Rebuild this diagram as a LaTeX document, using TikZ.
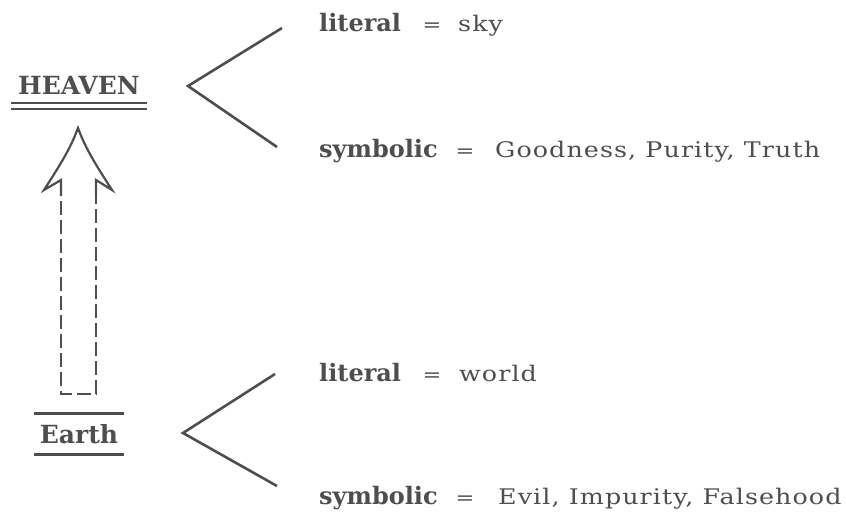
\documentclass[tikz,border=0pt]{standalone}
\usepackage{fontspec}
\setmainfont{DejaVu Serif}
\newfontfamily\twfont[FakeStretch=1.18,LetterSpace=5]{DejaVu Serif}
\definecolor{ink}{RGB}{78,78,78}
\begin{document}
\begin{tikzpicture}[x=1pt,y=-1pt,
  ink line/.style={draw=ink,line width=2.6pt,line cap=butt,line join=miter},
  title/.style={inner sep=0pt,text=ink,font=\fontsize{25}{25}\selectfont\bfseries},
  key/.style={anchor=base west,inner sep=0pt,text=ink,font=\fontsize{24}{24}\selectfont\bfseries},
  eqs/.style={anchor=base,inner sep=0pt,text=ink,font=\fontsize{19}{24}\selectfont\twfont},
  val/.style={anchor=base west,inner sep=0pt,text=ink,font=\fontsize{21.5}{24}\selectfont\twfont}]
\useasboundingbox (0,0) rectangle (846,514);

% HEAVEN
\node[title,anchor=base] (heaven) at (79,94) {HEAVEN};
\coordinate (hu1) at (11,103); \coordinate (hu2) at (147,103);
\coordinate (hd1) at (11,109); \coordinate (hd2) at (147,109);
\draw[ink line,line width=2pt] (hu1) -- (hu2);
\draw[ink line,line width=2pt] (hd1) -- (hd2);

% Earth
\node[title,anchor=base] (earth) at (79,443) {Earth};
\coordinate (eo1) at (34,413); \coordinate (eo2) at (124,413);
\coordinate (eu1) at (34,454); \coordinate (eu2) at (124,454);
\draw[ink line,line width=3pt] (eo1) -- (eo2);
\draw[ink line,line width=3pt] (eu1) -- (eu2);

% chevrons
\coordinate (hA) at (188,86);
\coordinate (hT) at (282,28);
\coordinate (hB) at (277,147);
\draw[ink line] (hT) -- (hA) -- (hB);
\coordinate (eA) at (183,433);
\coordinate (eT) at (275,374);
\coordinate (eB) at (277,486);
\draw[ink line] (eT) -- (eA) -- (eB);

% arrow
\coordinate (tip) at (78,128);
\coordinate (lo) at (44,190);
\coordinate (li) at (61,180);
\coordinate (ri) at (96,180);
\coordinate (ro) at (112,190);
\coordinate (ls) at (61,196);
\coordinate (rs) at (96,196);
\coordinate (lb) at (61,394);
\coordinate (rb) at (96,394);
\draw[ink line,line width=2.2pt] (ls) -- (li) -- (lo)
  .. controls (58,168) and (70,150) .. (tip)
  .. controls (86,150) and (98,168) .. (ro) -- (ri) -- (rs);
\draw[ink line,line width=2.2pt,dash pattern=on 14pt off 5pt,dash phase=-5pt] (ls) -- (lb) -- (rb) -- (rs);

% texts
\node[key] (hlit) at (319,31) {literal};
\node[eqs] (hleq) at (432,31) {=};
\node[val] (hlv) at (458,31) {sky};
\node[key] (hsym) at (319,157) {symbolic};
\node[eqs] (hseq) at (465,157) {=};
\node[val] (hsv) at (495,157) {Goodness, Purity, Truth};

\node[key] (elit) at (319,381) {literal};
\node[eqs] (eleq) at (432,381) {=};
\node[val] (elv) at (459,381) {world};
\node[key] (esym) at (319,504) {symbolic};
\node[eqs] (eseq) at (465,504) {=};
\node[val] (esv) at (498,504) {Evil, Impurity, Falsehood};
\end{tikzpicture}
\end{document}
